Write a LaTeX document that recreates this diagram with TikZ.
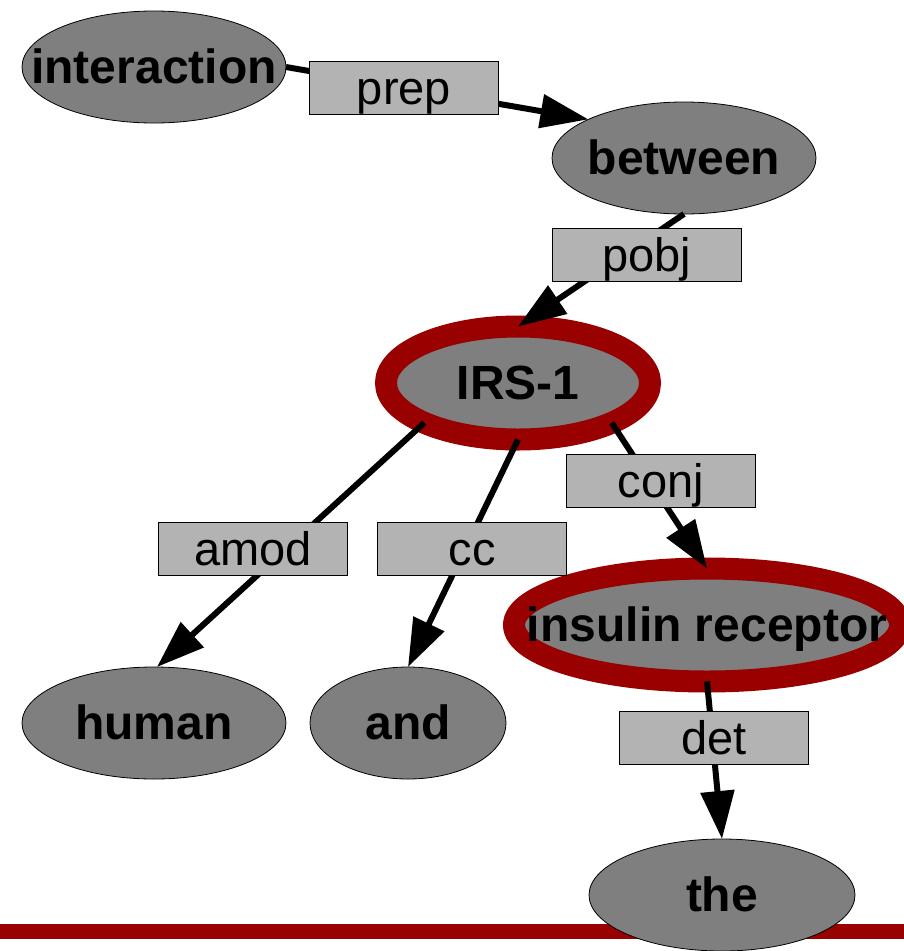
\documentclass[tikz,border=0pt]{standalone}
\usepackage{fontspec}
\setmainfont{Liberation Sans}
\usetikzlibrary{shapes.geometric,arrows.meta}
\definecolor{darkred}{HTML}{990000}
\definecolor{nodegray}{HTML}{7F7F7F}
\definecolor{labelgray}{HTML}{B3B3B3}
\newcommand{\wordtext}[1]{\makebox[0pt]{#1}}
\begin{document}
\begin{tikzpicture}[x=1pt,y=-1pt,
  word/.style={ellipse, fill=nodegray, draw=black, line width=0.8pt,
    inner sep=0pt, outer sep=0pt, minimum height=112pt,
    font=\fontsize{48}{56}\selectfont\bfseries, text height=33.8pt, text depth=0pt},
  focus/.style={word, draw=darkred, line width=22pt},
  rel/.style={rectangle, fill=labelgray, draw=black, line width=1pt,
    minimum width=189pt, minimum height=53pt, inner sep=0pt,
    font=\fontsize{47}{56}\selectfont, text height=33.8pt, text depth=0pt},
  dep/.style={line width=6pt, -{Triangle[length=48pt,width=33pt]}}
]
\useasboundingbox (0,0) rectangle (904,951);

% baseline rule
\coordinate (ruleL) at (0,931.5);
\coordinate (ruleR) at (904,931.5);
\draw[darkred, line width=15pt] (ruleL) -- (ruleR);

% words
\node[word, minimum width=264pt] (interaction) at (154,67) {\wordtext{interaction}};
\node[word, minimum width=264pt] (between) at (684,158) {\wordtext{between}};
\node[focus, minimum width=264pt, minimum height=113pt] (irs) at (518,383) {\wordtext{IRS-1}};
\node[word, minimum width=264pt] (human) at (154,723) {\wordtext{human}};
\node[word, minimum width=196pt] (and) at (408,723) {\wordtext{and}};
\node[focus, minimum width=386pt, minimum height=113pt] (insulin) at (707,625) {\wordtext{insulin receptor}};
\node[word, minimum width=266pt] (the) at (722,895) {\wordtext{the}};

% dependencies
\draw[dep] (interaction.east) -- (between.158);
\draw[dep] (between.south) -- (irs.north);
\draw[dep] (irs.203) -- (human.87);
\draw[dep] (irs.south) -- (and.north);
\draw[dep] (irs.-23) -- (insulin.north);
\draw[dep] (insulin.south) -- (the.north);

% relation labels
\node[rel] (prep) at (404,88) {prep};
\node[rel] (pobj) at (647,255) {pobj};
\node[rel] (conj) at (661,481) {conj};
\node[rel] (amod) at (253,549) {amod};
\node[rel] (cc) at (472,549) {cc};
\node[rel] (det) at (714,738) {det};
\end{tikzpicture}
\end{document}
